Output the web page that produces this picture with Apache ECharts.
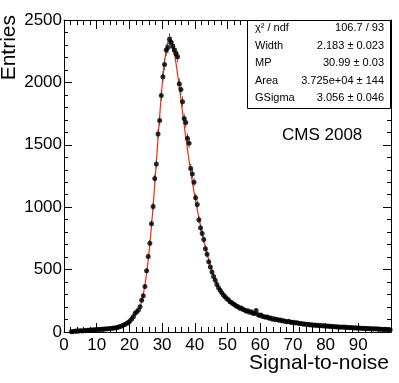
<!DOCTYPE html>
<html>
<head>
<meta charset="utf-8">
<script src="https://cdn.jsdelivr.net/npm/echarts@6/dist/echarts.min.js"></script>
<style>
html, body { margin: 0; padding: 0; background: #fff; }
#chart { width: 399px; height: 383px; }
</style>
</head>
<body>
<div id="chart"></div>
<script>
// histogram: 200 bins of width 0.5 from 0 to 100
var binStart = 0, binWidth = 0.5;
var entries = [
	null, null, null, null, 3, 5, 6, 8, 7, 10,
	11, 9, 13, 12, 15, 14, 17, 16, 19, 18,
	21, 20, 23, 22, 25, 24, 27, 26, 29, 31,
	33, 32, 36, 40, 45, 50, 57, 63, 70, 78,
	90, 106, 125, 150, 163, 176, 203, 255, 290, 365,
	490, 605, 712, 867, 1006, 1229, 1347, 1587, 1694, 1895,
	2045, 2144, 2259, 2280, 2345, 2320, 2290, 2260, 2230, 2206,
	1990, 1943, 1845, 1710, 1678, 1552, 1512, 1310, 1267, 1199,
	1076, 1022, 900, 835, 790, 742, 668, 622, 562, 520,
	480, 444, 414, 380, 355, 335, 314, 297, 283, 268,
	258, 243, 236, 225, 219, 206, 202, 190, 192, 180,
	176, 166, 170, 158, 162, 150, 148, 172, 140, 133,
	136, 125, 122, 118, 120, 110, 112, 103, 106, 98,
	101, 94, 96, 88, 91, 85, 82, 86, 79, 76,
	78, 72, 74, 70, 66, 69, 63, 65, 60, 62,
	57, 59, 55, 57, 52, 54, 50, 52, 48, 50,
	46, 48, 44, 46, 43, 44, 41, 43, 39, 41,
	38, 40, 36, 38, 35, 37, 34, 33, 35, 31,
	33, 30, 31, 29, 30, 27, 29, 26, 27, 25,
	26, 24, 25, 22, 23, 21, 22, 20, 21, 19
];

// landau (x) gauss fit
var fitX = [23, 23.5, 24, 24.5, 25, 25.5, 26, 26.5, 27, 27.5,
	28, 28.5, 29, 29.5, 30, 30.5, 31, 31.5, 32, 32.5,
	33, 33.5, 34, 34.5, 35, 35.5, 36, 36.5, 37, 37.5,
	38, 38.5, 39, 39.5, 40, 40.5, 41, 41.5, 42, 42.5,
	43, 43.5, 44, 44.5, 45, 45.5, 46, 46.5, 47, 47.5,
	48, 48.5, 49, 49.5, 50, 51, 52, 53, 54, 55,
	56, 57, 58, 59, 60, 61, 62, 63, 64, 65,
	66, 67, 68, 69, 70, 71, 71.5];
var fitY = [180, 222, 272, 338, 420, 520, 638, 772, 925, 1092,
	1270, 1455, 1640, 1815, 1975, 2110, 2215, 2290, 2332, 2340,
	2316, 2265, 2195, 2110, 2015, 1915, 1812, 1710, 1610, 1512,
	1418, 1328, 1243, 1162, 1086, 1015, 948, 886, 815, 760,
	705, 655, 605, 560, 515, 475, 440, 408, 378, 352,
	328, 307, 289, 273, 259, 236, 217, 201, 188, 177,
	168, 160, 150, 141, 133, 126, 119, 113, 107, 101,
	96, 91, 87, 83, 79, 75, 72];

var statNames = ['χ² / ndf', 'Width', 'MP', 'Area', 'GSigma'];
var statValues = ['106.7 / 93', '2.183 ± 0.023', '30.99 ± 0.03', '3.725e+04 ± 144', '3.056 ± 0.046'];
var plotLabel = 'CMS 2008';

var font = '"Liberation Sans", Arial, Helvetica, sans-serif';
var chart = echarts.init(document.getElementById('chart'));

var points = [];
for (var i = 0; i < entries.length; i++) {
	if (entries[i] == null) continue;
	points.push([binStart + (i + 0.5) * binWidth, entries[i]]);
}
var fitData = fitX.map(function (x, i) { return [x, fitY[i]]; });

function axisStyle(show, tickLen, minorLen) {
	return {
		axisLine: {show: true, onZero: false, lineStyle: {color: '#000', width: 1}},
		axisTick: {show: true, inside: true, length: tickLen, lineStyle: {color: '#000', width: 1}},
		minorTick: {show: true, splitNumber: 5, length: minorLen, lineStyle: {color: '#000', width: 1}},
		splitLine: {show: false},
		axisLabel: {show: show}
	};
}

var xBottom = Object.assign({
	type: 'value', position: 'bottom', min: 0, max: 100, interval: 10,
	name: 'Signal-to-noise', nameLocation: 'end', nameGap: -2, nameMoveOverlap: false,
	nameTextStyle: {fontFamily: font, fontSize: 21, color: '#000', align: 'right', verticalAlign: 'top', padding: [21, 0, 0, 0]}
}, axisStyle(true, 9, 5));
xBottom.axisLabel = {fontFamily: font, fontSize: 17, color: '#000', margin: 5,
	formatter: function (v) { return v === 100 ? '' : String(v); }};
var xTop = Object.assign({type: 'value', position: 'top', min: 0, max: 100, interval: 10}, axisStyle(false, 9, 5));

var yLeft = Object.assign({
	type: 'value', position: 'left', min: 0, max: 2500, interval: 500,
	name: 'Entries', nameLocation: 'end', nameGap: 5, nameRotate: 90, nameMoveOverlap: false,
	nameTextStyle: {fontFamily: font, fontSize: 21, color: '#000', align: 'right', verticalAlign: 'bottom', padding: [0, 0, 44, 0]}
}, axisStyle(true, 8, 4));
yLeft.axisLabel = {fontFamily: font, fontSize: 17, color: '#000', margin: 2,
	formatter: function (v) { return String(v); }};
var yRight = Object.assign({type: 'value', position: 'right', min: 0, max: 2500, interval: 500}, axisStyle(false, 8, 4));

var statGraphics = [{
	type: 'rect', z: 100,
	shape: {x: 247.5, y: 20.5, width: 143, height: 88},
	style: {fill: '#fff', stroke: '#000', lineWidth: 1}
}];
statNames.forEach(function (n, i) {
	statGraphics.push({type: 'text', z: 101, x: 255, y: 28 + i * 17.5,
		style: {text: n, font: '11px ' + font, fill: '#000', verticalAlign: 'middle'}});
	statGraphics.push({type: 'text', z: 101, x: 384, y: 28 + i * 17.5,
		style: {text: statValues[i], font: '11px ' + font, fill: '#000', align: 'right', verticalAlign: 'middle'}});
});
statGraphics.push({type: 'text', z: 101, x: 282, y: 135,
	style: {text: plotLabel, font: '17px ' + font, fill: '#000', verticalAlign: 'middle'}});

chart.setOption({
	animation: false,
	backgroundColor: '#fff',
	grid: {left: 64, right: 8, top: 20, bottom: 51, containLabel: false, outerBoundsMode: 'none'},
	xAxis: [xBottom, xTop],
	yAxis: [yLeft, yRight],
	graphic: statGraphics,
	series: [{
		type: 'line', name: 'fit', data: fitData, showSymbol: false, smooth: 0.2, z: 2,
		lineStyle: {color: '#ff2a00', width: 1.2}
	}, {
		type: 'custom', name: 'errors', data: points, z: 3,
		renderItem: function (params, api) {
			var x = api.value(0), y = api.value(1), e = Math.sqrt(y);
			var top = api.coord([x, y + e]), bot = api.coord([x, y - e]);
			var l = api.coord([x - binWidth / 2, y]), r = api.coord([x + binWidth / 2, y]);
			return {type: 'group', children: [
				{type: 'line', shape: {x1: top[0], y1: top[1], x2: bot[0], y2: bot[1]}, style: {stroke: '#555', lineWidth: 1}},
				{type: 'line', shape: {x1: l[0], y1: l[1], x2: r[0], y2: r[1]}, style: {stroke: '#555', lineWidth: 1}}
			]};
		}
	}, {
		type: 'scatter', name: 'data', data: points, symbol: 'circle', symbolSize: 5, z: 4,
		itemStyle: {color: '#000'}
	}]
});
</script>
</body>
</html>
